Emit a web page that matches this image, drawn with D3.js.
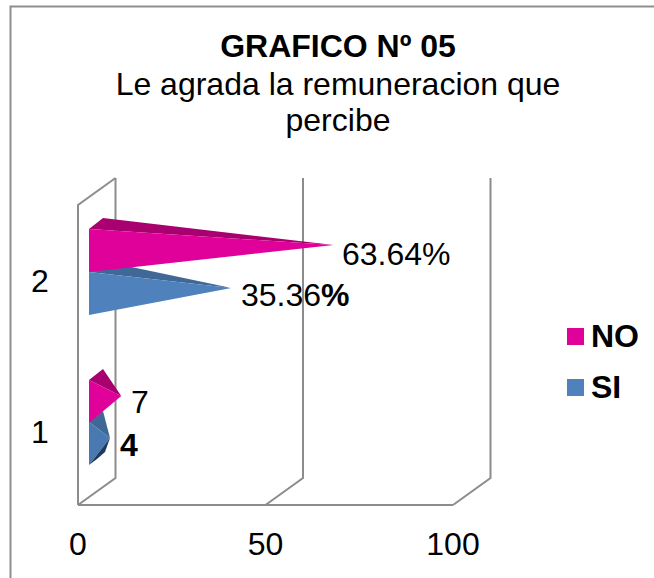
<!DOCTYPE html>
<html><head><meta charset="utf-8">
<script src="https://cdnjs.cloudflare.com/ajax/libs/d3/7.8.5/d3.min.js"></script>
<style>html,body{margin:0;padding:0;background:#fff}svg{display:block}text{font-family:"Liberation Sans",Arial,sans-serif;fill:#000}</style>
</head><body><svg id="c" width="654" height="578"></svg>
<script>
const categories = ["1","2"];
const seriesNames = ["NO","SI"];
const plottedNO = [7, 63.64];
const plottedSI = [4, 36.36];
const labelsNO = ["7","63.64%"];
const labelsSI = ["4","35.36%"];
const xTicks = [0,50,100];
const colorsMain = ["#E0009A","#4F81BD"];

const svg = d3.select("#c");
const x = d3.scaleLinear().domain([0,100]).range([78,453]);
const y = d3.scaleBand().domain(["2","1"]).range([205,505]);
const depthX = 37.5, depthY = -27;
const grid = "#8c8c8c";

// Chart frame
svg.append("path").attr("d","M10.5,578V6.5H654").attr("fill","none").attr("stroke","#8e8e8e").attr("stroke-width",2);

// Walls
const g = svg.append("g").attr("fill","none").attr("stroke",grid).attr("stroke-width",2);
const yTop = 205, yBot = 505;
xTicks.forEach(t=>{
  g.append("path").attr("d",`M${x(t)},${yBot}L${x(t)+depthX},${yBot+depthY}V${yTop+depthY}`);
});
g.append("path").attr("d",`M${x(0)},${yBot}V${yTop}L${x(0)+depthX},${yTop+depthY}`);
g.append("path").attr("d",`M${x(0)},${yBot}H${x(100)}`);

// Cones
const baseX = x(0)+11, tipExtra = 6;
const sx = v => baseX + (x(v)-x(0)) + tipExtra;
const line = d3.line();
function cone(cat, v, series){
  const band = y(cat), h = 43;
  const top = series===0 ? band+(cat==="2"?24:25) : band+67;
  const bot = top+h, tipY = top + h/2 - 5.5;
  const tipX = sx(v);
  const gg = svg.append("g");
  const poly = (pts,c)=>gg.append("path").attr("d",line(pts)+"Z").attr("fill",c);
  poly([[baseX,top],[baseX+14,top-11],[tipX,tipY]], series===0?"#A8006F":"#3F6896");
  poly([[baseX,top],[tipX,tipY],[baseX,bot]], series===0?colorsMain[0]:(cat==="1"?"#4A78B0":colorsMain[1]));
  if(series===1 && cat==="1") poly([[baseX,bot],[tipX,tipY],[baseX+16,bot-13],[baseX+8,bot-6]],"#1F3A5F");
}
cone("2",plottedSI[1],1);
cone("2",plottedNO[1],0);
cone("1",plottedSI[0],1);
cone("1",plottedNO[0],0);

// Title
const title = svg.append("g").attr("text-anchor","middle");
title.append("text").attr("x",338).attr("y",57).attr("font-size",32).attr("font-weight","bold").text("GRAFICO Nº 05");
title.append("text").attr("x",338).attr("y",95).attr("font-size",32).text("Le agrada la remuneracion que");
title.append("text").attr("x",338).attr("y",131).attr("font-size",32).text("percibe");

// Category labels
[["2",292],["1",443]].forEach(([c,py])=>{
  svg.append("text").attr("x",40).attr("y",py).attr("text-anchor","middle").attr("font-size",32).text(c);
});
// Axis labels
xTicks.forEach(t=>{
  svg.append("text").attr("x",x(t)).attr("y",555).attr("text-anchor","middle").attr("font-size",32).text(t);
});
// Data labels
svg.append("text").attr("x",342).attr("y",265).attr("font-size",32).text(labelsNO[1]);
const t35 = svg.append("text").attr("x",241).attr("y",306).attr("font-size",32);
t35.append("tspan").text(labelsSI[1].slice(0,-1));
t35.append("tspan").attr("font-weight","bold").text("%");
svg.append("text").attr("x",131).attr("y",413).attr("font-size",32).text(labelsNO[0]);
svg.append("text").attr("x",120).attr("y",456).attr("font-size",32).attr("font-weight","bold").text(labelsSI[0]);

// Legend
seriesNames.forEach((n,i)=>{
  const py = 328 + i*51;
  svg.append("rect").attr("x",567).attr("y",py).attr("width",17).attr("height",17).attr("fill",colorsMain[i]);
  svg.append("text").attr("x",591).attr("y",py+19).attr("font-size",32).attr("font-weight","bold").text(n);
});
</script></body></html>
